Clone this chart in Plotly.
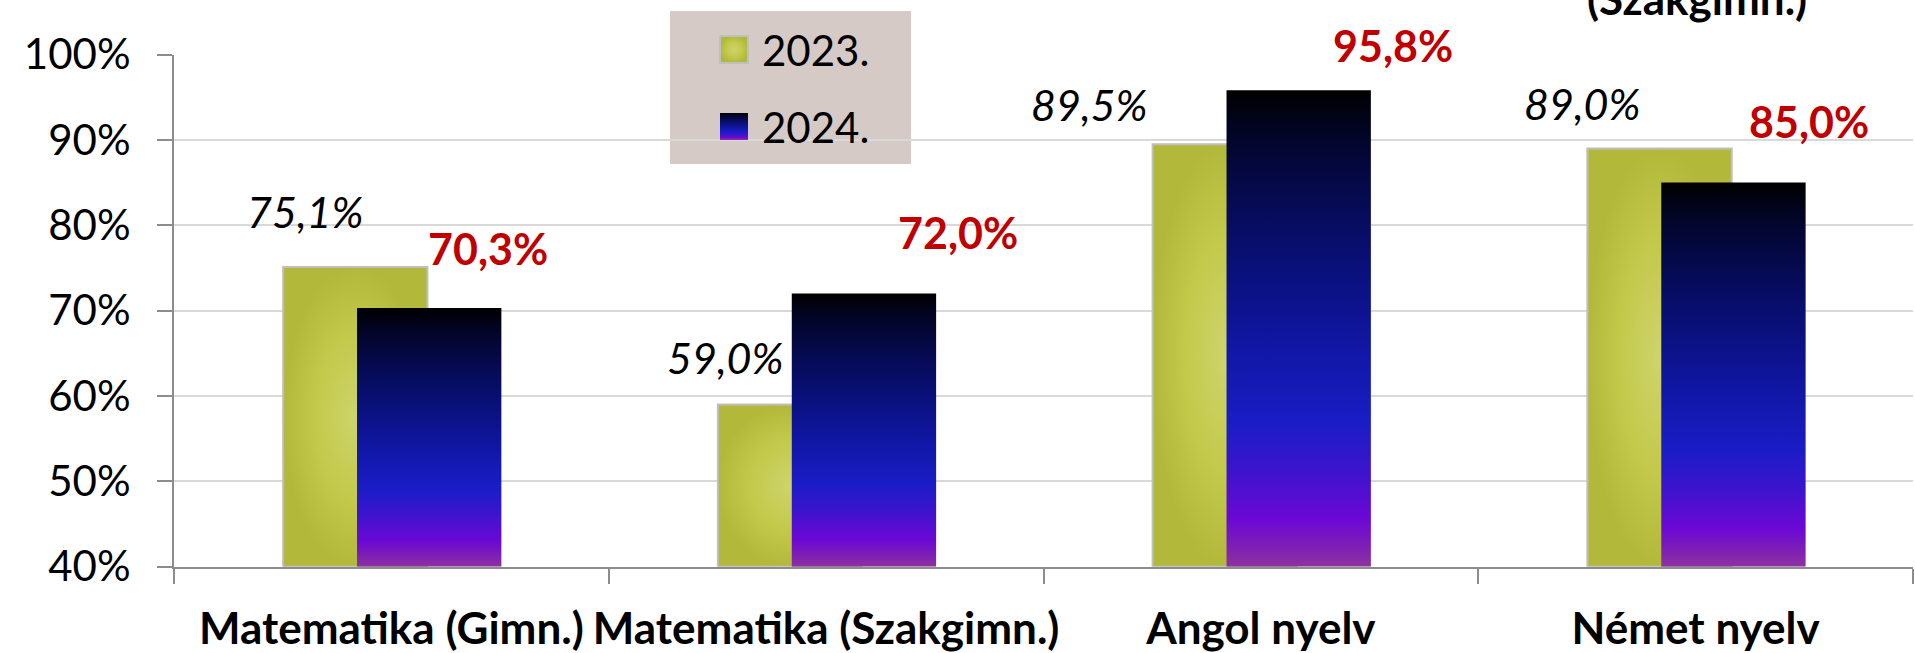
import plotly.graph_objects as go

# ---------------- data ----------------
categories = ["Matematika (Gimn.)", "Matematika (Szakgimn.)", "Angol nyelv", "Német nyelv"]
series_names = ["2023.", "2024."]
values_2023 = [75.1, 59.0, 89.5, 89.0]
values_2024 = [70.3, 72.0, 95.8, 85.0]
y_tick_values = [40, 50, 60, 70, 80, 90, 100]
y_tick_labels = ["40%", "50%", "60%", "70%", "80%", "90%", "100%"]
title_tail = "(Szakgimn.)"

# ---------------- layout constants ----------------
W, H = 1915, 653
Y_MIN, Y_MAX = 40, 100
BAR_W = 0.332
OFF_2023 = -0.249   # left edge of bar relative to category centre
OFF_2024 = -0.079
FONT = "Lato"

# label offsets in pixels (relative to category centre / bar top)
DX_2023 = [-86, -101, -172, -114]
DY_2023 = [56, 47, 40, 45]
DX_2024 = [97, 132, 132, 113]
DY_2024 = [60, 61, 45, 61]

GREEN_CS = [[0, "#CDD46B"], [0.55, "#C3C94A"], [1, "#B2B839"]]
BLUE_CS = [[0, "#8E32A0"], [0.04, "#7E20B4"], [0.10, "#6B08D5"], [0.2, "#3D14CE"],
           [0.3, "#1A1DC6"], [0.45, "#1117A6"], [0.6, "#0A1180"], [0.75, "#060B58"],
           [0.9, "#03052A"], [1, "#000000"]]
GRID = "#D9D9D9"
AXIS = "#8C8C8C"
RED = "#C00000"


def fmt(v):
    return f"{v:.1f}".replace(".", ",") + "%"


def bar_poly(i, off, v):
    x0 = i + off
    x1 = x0 + BAR_W
    return [x0, x1, x1, x0, x0], [Y_MIN, Y_MIN, v, v, Y_MIN]


fig = go.Figure()

for i, v in enumerate(values_2023):
    xs, ys = bar_poly(i, OFF_2023, v)
    fig.add_trace(go.Scatter(
        x=xs, y=ys, mode="lines", fill="toself",
        line=dict(color="#BFBFBF", width=2),
        fillcolor="#C0C641",
        fillgradient=dict(type="radial", colorscale=GREEN_CS),
        name=series_names[0], showlegend=False, hoverinfo="skip"))

for i, v in enumerate(values_2024):
    xs, ys = bar_poly(i, OFF_2024, v)
    fig.add_trace(go.Scatter(
        x=xs, y=ys, mode="lines", fill="toself",
        line=dict(color="rgba(0,0,0,0)", width=0),
        fillcolor="#101890",
        fillgradient=dict(type="vertical", colorscale=BLUE_CS, start=Y_MIN, stop=v),
        name=series_names[1], showlegend=False, hoverinfo="skip"))

# ------------- manual legend (pixel overlay axes) -------------
LEG_X0, LEG_X1, LEG_Y0, LEG_Y1 = 670, 911, 11, 164
SQ_X0, SQ_X1 = 720, 748
SQ1_Y0, SQ1_Y1 = 36, 63
SQ2_Y0, SQ2_Y1 = 113, 140

fig.add_trace(go.Scatter(
    x=[SQ_X0, SQ_X1, SQ_X1, SQ_X0, SQ_X0], y=[SQ1_Y0, SQ1_Y0, SQ1_Y1, SQ1_Y1, SQ1_Y0],
    xaxis="x2", yaxis="y2", mode="lines", fill="toself",
    line=dict(color="#BFBFBF", width=2), fillcolor="#C0C641",
    fillgradient=dict(type="radial", colorscale=GREEN_CS),
    showlegend=False, hoverinfo="skip"))
fig.add_trace(go.Scatter(
    x=[SQ_X0, SQ_X1, SQ_X1, SQ_X0, SQ_X0], y=[SQ2_Y0, SQ2_Y0, SQ2_Y1, SQ2_Y1, SQ2_Y0],
    xaxis="x2", yaxis="y2", mode="lines", fill="toself",
    line=dict(color="rgba(0,0,0,0)", width=0), fillcolor="#101890",
    fillgradient=dict(type="vertical", colorscale=BLUE_CS, start=SQ2_Y1, stop=SQ2_Y0),
    showlegend=False, hoverinfo="skip"))

annotations = []
for i, v in enumerate(values_2023):
    annotations.append(dict(x=i, y=v, xref="x", yref="y", text=fmt(v), showarrow=False,
                            xshift=DX_2023[i], yshift=DY_2023[i],
                            font=dict(family=FONT, size=43, color="#000000", style="italic")))
for i, v in enumerate(values_2024):
    annotations.append(dict(x=i, y=v, xref="x", yref="y", text=fmt(v), showarrow=False,
                            xshift=DX_2024[i], yshift=DY_2024[i],
                            font=dict(family=FONT, size=43, color=RED, weight="bold")))

annotations.append(dict(x=760, y=(SQ1_Y0 + SQ1_Y1) / 2, xref="x2", yref="y2", text=series_names[0],
                        showarrow=False, xanchor="left", yanchor="middle",
                        font=dict(family=FONT, size=42, color="#000000")))
annotations.append(dict(x=760, y=(SQ2_Y0 + SQ2_Y1) / 2, xref="x2", yref="y2", text=series_names[1],
                        showarrow=False, xanchor="left", yanchor="middle",
                        font=dict(family=FONT, size=42, color="#000000")))
annotations.append(dict(x=1697 / W, y=1 - 26 / H, xref="paper", yref="paper", text="<b>" + title_tail + "</b>",
                        showarrow=False, xanchor="center", yanchor="bottom",
                        font=dict(family=FONT, size=44, color="#000000")))

fig.update_layout(
    width=W, height=H,
    margin=dict(l=0, r=0, t=0, b=0, pad=0),
    paper_bgcolor="#FFFFFF",
    plot_bgcolor="rgba(0,0,0,0)",
    showlegend=False,
    hovermode=False,
    font=dict(family=FONT, color="#000000"),
    annotations=annotations,
    shapes=[dict(type="rect", xref="paper", yref="paper",
                 x0=LEG_X0 / W, x1=LEG_X1 / W, y0=1 - LEG_Y1 / H, y1=1 - LEG_Y0 / H,
                 fillcolor="#D6CAC7", line=dict(width=0), layer="below")],
    xaxis=dict(
        domain=[174 / W, 1913 / W], range=[-0.5, 3.5],
        tickmode="array", tickvals=list(range(len(categories))), ticktext=categories,
        ticks="", showgrid=False, zeroline=False, automargin=False,
        showline=True, linecolor=AXIS, linewidth=2,
        tickfont=dict(family=FONT, size=44, color="#000000", weight="bold"),
        ticklabelstandoff=22,
        minor=dict(tickmode="array", tickvals=[-0.5, 0.5, 1.5, 2.5, 3.5], ticks="outside",
                   ticklen=15, tickwidth=2, tickcolor=AXIS, showgrid=False),
        fixedrange=True,
    ),
    yaxis=dict(
        domain=[(H - 566.7) / H, (H - 54.5) / H], range=[Y_MIN, Y_MAX],
        tickmode="array", tickvals=y_tick_values, ticktext=y_tick_labels,
        ticks="outside", ticklen=15, tickwidth=2, tickcolor=AXIS,
        showline=True, linecolor=AXIS, linewidth=2,
        showgrid=True, gridcolor=GRID, gridwidth=1.5, zeroline=False, automargin=False,
        tickfont=dict(family=FONT, size=42, color="#000000"),
        ticklabelstandoff=18,
        fixedrange=True,
    ),
    xaxis2=dict(domain=[0, 1], range=[0, W], visible=False, anchor="y2", fixedrange=True),
    yaxis2=dict(domain=[0, 1], range=[H, 0], visible=False, anchor="x2", fixedrange=True),
)

fig.write_html("out.html", config={"displayModeBar": False},
               post_script="document.body.style.margin='0';document.documentElement.style.overflow='hidden';")
